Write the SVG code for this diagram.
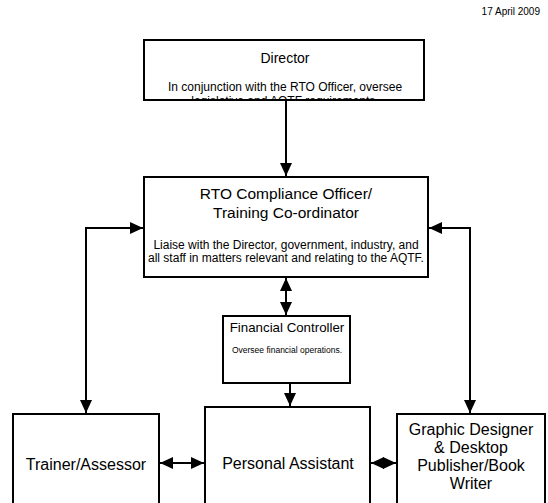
<svg xmlns="http://www.w3.org/2000/svg" width="548" height="503" viewBox="0 0 548 503">
<style>
.box{fill:#fff;stroke:#000;stroke-width:2}
.t{font-family:"Liberation Sans",Arial,sans-serif;fill:#000;text-anchor:middle}
.c{fill:none;stroke:#000;stroke-width:2}
.big{font-size:16px}
.sub{font-size:12px}
</style>
<defs>
<marker id="ah" markerUnits="userSpaceOnUse" markerWidth="14" markerHeight="12" refX="13" refY="6" orient="auto-start-reverse" viewBox="0 0 14 12">
<path d="M0,0 L13,6 L0,12 z" fill="#000"/>
</marker>
<clipPath id="dirclip"><rect x="144" y="41" width="280" height="58"/></clipPath>
</defs>
<rect width="548" height="503" fill="#fff"/>
<text class="t" x="540" y="15" style="text-anchor:end;font-size:10px">17 April 2009</text>

<g id="connectors">
<line class="c" x1="286" y1="100" x2="286" y2="176" marker-end="url(#ah)"/>
<line class="c" x1="286" y1="278" x2="286" y2="315" marker-start="url(#ah)" marker-end="url(#ah)"/>
<line class="c" x1="290" y1="383" x2="290" y2="406" marker-end="url(#ah)"/>
<path class="c" d="M143,228 H86 V413" marker-start="url(#ah)" marker-end="url(#ah)"/>
<path class="c" d="M429,228 H470 V413" marker-start="url(#ah)" marker-end="url(#ah)"/>
<line class="c" x1="160" y1="463" x2="204" y2="463" marker-start="url(#ah)" marker-end="url(#ah)"/>
<line class="c" x1="371" y1="463" x2="396" y2="463" marker-start="url(#ah)" marker-end="url(#ah)"/>
</g>

<g id="director">
<rect class="box" x="144" y="40" width="280" height="60"/>
<text class="t" x="285" y="63" style="font-size:14px">Director</text>
<g clip-path="url(#dirclip)">
<text class="t sub" x="285" y="91">In conjunction with the RTO Officer, oversee</text>
<text class="t sub" x="285" y="105">legislative and AQTF requirements.</text>
</g>
</g>

<g id="rto">
<rect class="box" x="144" y="177" width="284" height="100"/>
<text class="t" x="286" y="199" style="font-size:15.5px">RTO Compliance Officer/</text>
<text class="t" x="286" y="218" style="font-size:15.5px">Training Co-ordinator</text>
<text class="t sub" x="286" y="249">Liaise with the Director, government, industry, and</text>
<text class="t sub" x="286" y="262">all staff in matters relevant and relating to the AQTF.</text>
</g>

<g id="financial">
<rect class="box" x="223" y="316" width="127" height="67"/>
<text class="t" x="287" y="332" style="font-size:13.3px">Financial Controller</text>
<text class="t" x="287" y="353" style="font-size:8.5px">Oversee financial operations.</text>
</g>

<g id="trainer">
<rect class="box" x="13" y="414" width="146" height="100"/>
<text class="t big" x="86" y="470">Trainer/Assessor</text>
</g>

<g id="assistant">
<rect class="box" x="205" y="407" width="165" height="110"/>
<text class="t big" x="288" y="469">Personal Assistant</text>
</g>

<g id="graphic">
<rect class="box" x="397" y="414" width="148" height="100"/>
<text class="t big" x="471" y="435">Graphic Designer</text>
<text class="t big" x="471" y="453">&amp; Desktop</text>
<text class="t big" x="471" y="471">Publisher/Book</text>
<text class="t big" x="471" y="489">Writer</text>
</g>
</svg>
